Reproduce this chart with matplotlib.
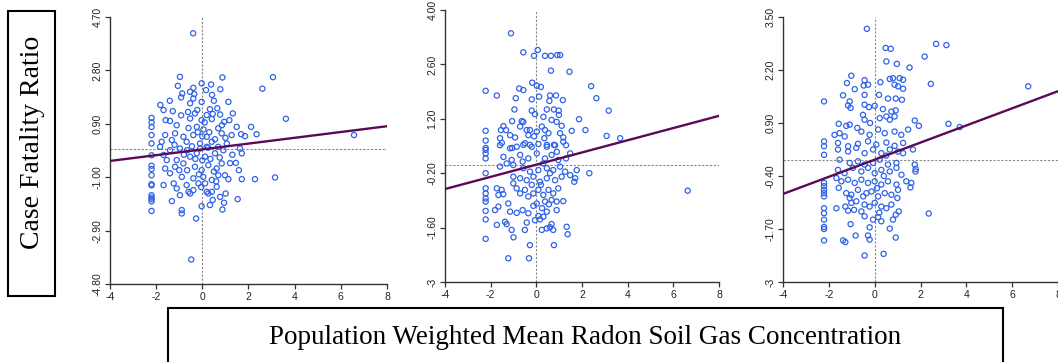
import numpy as np
import matplotlib
matplotlib.use("Agg")
import matplotlib.pyplot as plt
from matplotlib.patches import Rectangle

# points (x = radon, y = case fatality ratio)
p1_pts = [
    (-0.4, 4.12), (-0.48, -3.93), (3.06, 2.56), (2.6, 2.15), (3.62, 1.08), (6.57, 0.5), (3.15, -1.01),
    (2.28, -1.07), (1.53, -1.78), (1.71, -1.07), (2.11, 0.79), (2.35, 0.53),
    (-0.97, 2.57), (0.87, 2.55), (-0.03, 2.34), (0.38, 2.30), (-1.06, 2.25), (-0.39, 2.18), (0.16, 2.10),
    (0.78, 2.13), (-0.53, 2.04), (-0.87, 1.98), (-0.35, 1.96), (0.42, 1.93), (-0.92, 1.84), (-0.39, 1.80),
    (-1.41, 1.72), (-0.03, 1.68), (0.5, 1.72), (1.13, 1.68), (-1.82, 1.57), (-0.53, 1.63), (-1.68, 1.39),
    (-1.28, 1.35), (-0.62, 1.32), (-0.22, 1.39), (0.33, 1.42), (0.65, 1.45), (-0.92, 1.2), (-0.32, 1.27),
    (0.19, 1.21), (0.77, 1.23), (1.32, 1.27),
    (-2.2, 1.11), (-2.2, 0.95), (-2.2, 0.79), (-2.2, 0.5), (-2.2, 0.2), (-2.2, -0.22), (-2.2, -0.59),
    (-2.2, -0.71), (-2.2, -0.93), (-2.2, -1.25), (-2.2, -1.29), (-2.2, -1.64), (-2.2, -1.72), (-2.2, -1.78),
    (-2.2, -1.86), (-2.2, -2.2),
    (-1.59, 1.03), (-1.4, 1.0), (-0.53, 1.09), (-0.03, 1.03), (0.41, 1.07), (0.95, 0.97), (1.17, 1.03),
    (-1.11, 0.85), (-0.24, 0.79), (0.69, 0.74), (1.49, 0.79), (-1.61, 0.5), (-1.18, 0.56), (-0.82, 0.44),
    (-0.39, 0.5), (0.19, 0.44), (0.84, 0.56), (1.27, 0.5), (1.68, 0.53), (1.85, 0.46), (-1.76, 0.26),
    (-1.32, 0.32), (-0.68, 0.26), (-0.1, 0.2), (0.41, 0.26), (1.06, 0.2),
    (-1.68, -1.28), (-1.32, -1.85), (-0.97, -1.64), (-0.89, -2.17), (-0.89, -2.29), (-0.27, -2.47),
    (-0.03, -2.03), (0.33, -1.99), (0.45, -1.81), (0.87, -2.15), (0.94, -1.91), (1.01, -1.58), (0.77, -1.7),
    (1.58, -0.75), (1.45, -0.49), (1.71, -0.15), (1.63, 0.02), (1.13, -1.07), (0.98, -0.93), (-1.68, -0.21),
    (-1.61, -0.69), (-1.4, -0.86), (-1.24, -1.22), (-1.11, -1.4), (-0.68, -1.28), (-0.53, -1.58),
    (-0.39, -1.46), (-0.17, -1.22), (0.19, -1.52), (0.41, -1.52), (0.62, -1.34), (-1.11, -0.39),
    (-0.82, -0.51), (-0.53, -0.27), (-0.24, -0.15), (0.12, -0.27), (0.55, -0.15), (0.91, -0.04),
    (-1.4, -0.04), (-0.97, 0.02), (-0.66, -0.04), (-0.1, 0.02), (0.19, 0.08), (0.69, 0.08), (-1.54, -0.39),
    (-1.18, -0.63), (-0.66, -0.75), (-0.32, -0.63), (-0.03, -0.75), (0.26, -0.57), (0.62, -0.69),
    (0.84, -0.51), (-0.89, -0.99), (-0.39, -1.04), (0.04, -0.99), (0.41, -1.1), (0.69, -0.93), (0.12, -1.22),
    (-0.6, -1.52), (0.26, -1.58), (-1.83, 0.08),
    (-0.2, 0.6), (0.05, 0.7), (0.3, 0.6), (0.55, 0.35), (-0.45, 0.1), (0.0, -0.4), (0.35, -0.35),
    (-0.15, -0.9), (0.5, -0.8), (0.75, -0.3), (-0.8, -0.2), (1.0, 0.4), (0.1, 0.95), (-0.6, 0.75),
    (0.45, 1.25), (-0.05, -1.35), (0.6, -1.15), (1.2, -0.5), (-1.0, -0.75), (0.25, 0.05), (-0.3, -0.35),
    (0.85, 0.85), (1.3, -0.2), (-1.2, 0.15), (0.0, 0.45),
]

p2_pts = [
    (-1.11, 3.4), (-0.57, 2.91), (-0.1, 2.82), (0.06, 2.97), (0.38, 2.82), (0.64, 2.82), (0.92, 2.84),
    (1.04, 2.84), (0.64, 2.44), (1.45, 2.41), (-2.22, 1.92), (-1.73, 1.8), (-0.18, 2.13), (0.02, 2.05),
    (0.2, 2.02), (-0.75, 1.98), (-0.57, 1.94), (2.4, 2.04), (2.63, 1.73), (-0.9, 1.73), (-0.2, 1.7),
    (0.12, 1.77), (0.6, 1.8), (0.86, 1.8), (0.57, 1.66), (1.16, 1.68), (3.17, 1.41), (-0.96, 1.44),
    (-0.2, 1.41), (-0.06, 1.32), (0.46, 1.44), (0.77, 1.44), (0.98, 1.41), (0.31, 1.25), (0.99, 1.3),
    (1.87, 1.19), (-1.06, 1.14), (-0.64, 1.14), (-0.57, 1.12), (-2.22, 0.89), (-1.44, 1.01), (-1.55, 0.91),
    (-1.33, 0.91), (-0.71, 1.0), (0.67, 1.17), (0.89, 1.12), (1.11, 1.02), (1.55, 0.89), (2.15, 0.91),
    (3.08, 0.76), (3.67, 0.7), (-2.22, 0.64), (-1.59, 0.7), (-1.51, 0.58), (-1.15, 0.78), (-0.93, 0.72),
    (-0.42, 0.91), (-0.35, 0.78), (-0.28, 0.91), (0.02, 0.87), (0.24, 1.0), (0.38, 0.91), (0.53, 0.83),
    (1.04, 0.83), (1.18, 0.72), (1.3, 0.52), (-0.57, 0.53), (-0.28, 0.53), (0.09, 0.55), (0.46, 0.53),
    (0.77, 0.53), (-1.06, 0.45), (-2.22, 0.45),
    (-2.22, 0.4), (-2.22, 0.31), (-2.22, 0.18), (-2.22, -0.2), (-2.22, -0.59), (-2.22, -0.72),
    (-2.22, -0.85), (-2.22, -0.93), (-2.22, -1.17), (-2.22, -1.39), (-2.22, -1.89),
    (-1.23, -2.39), (-0.32, -2.39), (-0.28, -2.05), (0.77, -2.05), (1.33, -1.58), (1.37, -1.77),
    (-1.08, -1.66), (-1.0, -1.85), (-1.73, -1.53), (-1.37, -1.45), (-1.3, -1.51), (-0.5, -1.66),
    (-0.42, -1.47), (0.24, -1.66), (0.46, -1.62), (0.6, -1.59), (0.74, -1.66), (0.67, -1.51), (-0.06, -1.41),
    (0.16, -1.39), (0.09, -1.3), (0.31, -1.32), (0.46, -1.19), (0.89, -1.15), (-1.81, -1.15), (-1.66, -1.06),
    (-1.23, -0.98), (-1.15, -1.19), (-0.86, -1.22), (-0.6, -1.15), (-0.35, -1.23), (1.18, -0.92),
    (0.89, -0.93), (0.67, -0.89), (0.38, -0.93), (0.02, -0.98), (-0.13, -1.04), (-1.73, -0.59),
    (-1.66, -0.76), (-1.52, -0.63), (-1.45, -0.74), (-1.01, -0.46), (-0.86, -0.59), (-0.71, -0.72),
    (-0.5, -0.63), (-0.35, -0.8), (-0.13, -0.72), (0.09, -0.63), (0.31, -0.76), (0.53, -0.63), (0.74, -0.72),
    (0.96, -0.59), (-1.01, -0.29), (-0.71, -0.33), (-0.42, -0.38), (-0.13, -0.29), (0.16, -0.42),
    (0.46, -0.33), (0.82, -0.38), (1.11, -0.29), (1.48, -0.25), (1.7, -0.33), (1.77, -0.12), (1.66, -0.42),
    (2.32, -0.2), (-1.59, -0.03), (-1.3, 0.05), (-1.01, 0.01), (-0.57, -0.07), (-0.28, -0.16), (0.09, -0.12),
    (0.46, -0.07), (0.74, -0.12), (1.04, -0.03), (1.26, -0.16), (-1.44, 0.22), (-1.08, 0.14), (-0.71, 0.27),
    (-0.35, 0.18), (0.02, 0.31), (0.38, 0.18), (0.67, 0.27), (0.96, 0.14), (1.3, 0.18), (-1.59, 0.52),
    (-1.15, 0.44), (-0.86, 0.48), (-0.5, 0.57), (-0.2, 0.48), (0.46, 0.48), (0.82, 0.52), (1.18, 0.61),
    (1.48, 0.31), (6.63, -0.65),
    (0.2, -0.5), (0.6, -0.2), (-0.2, -0.5), (0.3, 0.05), (-0.6, 0.1), (0.55, -1.0), (0.25, -1.1),
    (-0.1, 0.75), (0.35, 0.7), (0.9, 0.35),
]

p3_pts = [
    (-0.34, 3.21), (0.48, 2.74), (0.7, 2.72), (2.68, 2.84), (3.13, 2.81), (2.18, 2.53), (0.51, 2.41),
    (0.97, 2.35), (1.52, 2.26), (-1.02, 2.06), (-1.21, 1.88), (-0.44, 1.95), (-0.29, 1.84), (-0.48, 1.82),
    (0.25, 1.9), (0.66, 1.98), (0.8, 2.0), (1.09, 2.0), (1.24, 1.96), (0.87, 1.84), (1.02, 1.8), (1.24, 1.74),
    (2.45, 1.86), (-0.87, 1.73), (-1.38, 1.58), (-1.09, 1.43), (-0.44, 1.59), (0.19, 1.59), (0.58, 1.5),
    (0.92, 1.5), (1.19, 1.47), (-2.21, 1.43), (-1.16, 1.33), (-1.05, 1.27), (-0.44, 1.35), (-0.25, 1.29),
    (0.0, 1.32), (0.36, 1.24), (0.73, 1.18), (0.92, 1.21), (-0.51, 1.1), (-0.44, 0.98), (0.22, 1.02),
    (0.51, 1.06), (0.66, 0.98), (0.87, 1.06), (1.75, 0.96), (1.93, 0.83), (3.22, 0.88), (3.71, 0.8),
    (-1.57, 0.88), (-1.24, 0.83), (-1.09, 0.86), (-0.76, 0.78), (-1.75, 0.61), (-1.53, 0.65), (-1.31, 0.57),
    (-0.58, 0.69), (-0.22, 0.61), (0.15, 0.74), (0.44, 0.65), (0.87, 0.69), (1.16, 0.61), (1.46, 0.74),
    (-2.21, 0.45), (-2.21, 0.33), (-1.6, 0.41), (-1.16, 0.33), (-0.73, 0.39), (-0.29, 0.45), (0.07, 0.37),
    (0.51, 0.42), (0.87, 0.34), (1.24, 0.41), (6.7, 1.8),
    (-2.21, 0.12), (-2.21, -0.57), (-2.21, -0.65), (-2.21, -0.74), (-2.21, -0.82), (-2.21, -0.9),
    (-2.21, -1.19), (-2.21, -1.31), (-2.21, -1.47), (-2.21, -1.65), (-2.21, -1.7), (-2.21, -1.98),
    (-0.44, -2.35), (0.39, -2.31), (-1.38, -1.98), (-1.28, -2.02), (-0.83, -1.86), (-0.29, -1.86),
    (-0.22, -1.96), (0.92, -1.91), (0.66, -1.69), (2.36, -1.32), (-1.05, -1.58), (-0.22, -1.66),
    (-1.67, -1.19), (-1.28, -1.15), (-1.16, -1.25), (-0.9, -1.23), (-0.58, -1.27), (-0.44, -1.39),
    (-0.07, -1.47), (0.15, -1.41), (0.29, -1.51), (0.8, -1.47), (0.92, -1.35), (1.05, -1.27),
    (-1.09, -0.94), (-1.02, -1.06), (-0.8, -1.02), (-0.44, -1.1), (-0.22, -1.15), (0.0, -1.06),
    (0.29, -1.15), (0.51, -1.19), (0.73, -1.1), (0.99, -0.94), (-1.57, -0.69), (-1.24, -0.82),
    (-1.02, -0.86), (-0.73, -0.74), (-0.36, -0.82), (-0.14, -0.78), (0.15, -0.9), (0.44, -0.82),
    (0.73, -0.86), (1.02, -0.74), (-1.67, -0.45), (-1.45, -0.53), (-1.16, -0.49), (-0.87, -0.57),
    (-0.58, -0.49), (-0.29, -0.57), (0.0, -0.53), (0.29, -0.61), (0.58, -0.53), (0.95, -0.61),
    (1.38, -0.53), (1.6, -0.57), (1.56, -0.68), (1.75, -0.12), (1.79, -0.23), (1.78, -0.29),
    (-1.6, -0.25), (-1.31, -0.33), (-0.95, -0.2), (-0.58, -0.29), (-0.29, -0.2), (0.0, -0.33),
    (0.29, -0.25), (0.66, -0.29), (0.95, -0.2), (1.17, -0.37), (-1.53, 0.0), (-1.09, -0.08),
    (-0.73, -0.04), (-0.44, -0.12), (-0.07, -0.08), (0.22, 0.0), (0.58, -0.12), (0.95, -0.08),
    (-1.6, 0.25), (-1.16, 0.2), (-0.8, 0.29), (-0.44, 0.16), (-0.07, 0.25), (0.29, 0.16), (0.66, 0.25),
    (1.02, 0.2), (1.24, 0.16), (1.67, 0.25),
    (0.1, -0.7), (0.4, -0.4), (-0.2, 0.9), (0.5, 0.1), (0.2, -1.3), (-0.5, -0.9),
]

# fitted lines (intercept, slope)
fit_intercepts = [-0.01, 0.02, 0.0]
fit_slopes = [0.103, 0.157, 0.21]

y_ticks = [
    [-4.80, -2.90, -1.00, 0.90, 2.80, 4.70],
    [-3, -1.60, -0.20, 1.20, 2.60, 4.00],
    [-3, -1.70, -0.40, 0.90, 2.20, 3.50],
]
y_tick_labels = [
    ["-4.80", "-2.90", "-1.00", "0.90", "2.80", "4.70"],
    ["-3", "-1.60", "-0.20", "1.20", "2.60", "4.00"],
    ["-3", "-1.70", "-0.40", "0.90", "2.20", "3.50"],
]
x_ticks = [-4, -2, 0, 2, 4, 6, 8]

W, H = 1058, 362
fig = plt.figure(figsize=(W / 100, H / 100), dpi=100)

# axes boxes in pixels: left, top, right, bottom
boxes = [(110, 17, 387, 284), (445, 10, 719, 282), (783, 17, 1058, 282)]

for i, pts in enumerate([p1_pts, p2_pts, p3_pts]):
    l, t, r, b = boxes[i]
    ax = fig.add_axes([l / W, (H - b) / H, (r - l) / W, (b - t) / H])
    arr = np.array(pts)
    ax.axhline(0, color="#888888", lw=0.8, ls=(0, (2, 1.5)), zorder=1)
    ax.axvline(0, color="#888888", lw=0.8, ls=(0, (2, 1.5)), zorder=1)
    ax.scatter(arr[:, 0], arr[:, 1], s=14, facecolors="none", edgecolors="#2f63e8",
               linewidths=0.9, zorder=2, clip_on=False)
    xs = np.array([-4, 8])
    ax.plot(xs, fit_intercepts[i] + fit_slopes[i] * xs, color="#5c0a55", lw=1.7, zorder=3)
    ax.set_xlim(-4, 8)
    ax.set_ylim(y_ticks[i][0], y_ticks[i][-1])
    ax.set_xticks(x_ticks)
    ax.set_xticklabels([str(v) for v in x_ticks], fontsize=7.5, family="Liberation Sans")
    ax.set_yticks(y_ticks[i])
    ax.set_yticklabels(y_tick_labels[i], fontsize=7.5, family="Liberation Sans",
                       rotation=90, va="center")
    ax.spines["top"].set_visible(False)
    ax.spines["right"].set_visible(False)
    for s in ["left", "bottom"]:
        ax.spines[s].set_color("#333333")
        ax.spines[s].set_linewidth(1.0)
    ax.tick_params(length=3.5, width=0.9, color="#333333", pad=2, labelcolor="#222222")
    ax.set_facecolor("none")

# boxed labels
fig.patches.append(Rectangle((8 / W, (H - 296) / H), 47 / W, 285 / H, transform=fig.transFigure,
                             fill=False, lw=1.5, ec="black"))
fig.text(33 / W, (H - 142) / H, "Case Fatality Ratio", rotation=90, ha="center", va="center",
         fontsize=20, family="Liberation Serif")
# bottom edge of this box runs below the figure, as in the original
fig.patches.append(Rectangle((168 / W, -10 / H), 835 / W, (H - 308 + 10) / H, transform=fig.transFigure,
                             fill=False, lw=1.5, ec="black"))
fig.text(585 / W, (H - 338) / H, "Population Weighted Mean Radon Soil Gas Concentration",
         ha="center", va="center", fontsize=19.5, family="Liberation Serif")

fig.savefig("out.png", dpi=100)
